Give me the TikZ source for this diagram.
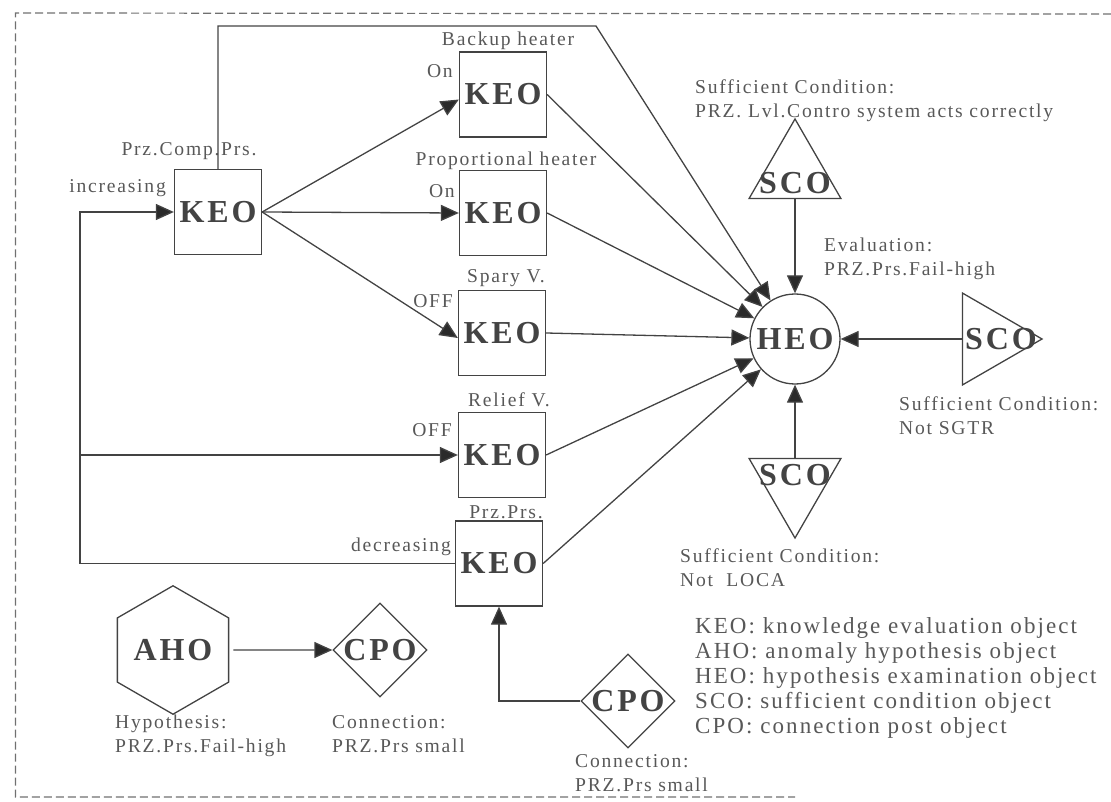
\documentclass[tikz,border=0pt]{standalone}
\usepackage{fontspec}
\setmainfont{Liberation Serif}[LetterSpace=9]
\usetikzlibrary{arrows.meta,shapes.geometric,calc}
\definecolor{ink}{HTML}{434343}
\definecolor{txt}{HTML}{585858}
\definecolor{tipc}{HTML}{2A2A2A}
\definecolor{frame}{HTML}{707070}
\tikzset{
  lab/.style={font=\fontsize{19.6}{24}\selectfont, text=txt, inner sep=0pt, align=left},
  legend/.style={font=\fontsize{23}{25.2}\selectfont, text=txt, inner sep=0pt, align=left},
  obj/.style={font=\fontsize{32}{36}\selectfont\bfseries, text=ink},
  keo/.style={rectangle, draw=ink, line width=1.3pt, minimum width=87pt, minimum height=85pt, inner sep=0pt, obj},
  heo/.style={circle, draw=ink, line width=1.3pt, minimum size=90pt, inner sep=0pt, obj},
  sco/.style={regular polygon, regular polygon sides=3, draw=ink, line width=1.3pt, minimum size=106pt, inner sep=0pt},
  aho/.style={regular polygon, regular polygon sides=6, shape border rotate=30, draw=ink, line width=1.3pt, minimum size=105pt, inner sep=0pt, obj},
  cpo/.style={diamond, draw=ink, line width=1.3pt, minimum width=94pt, minimum height=94pt, inner sep=0pt},
  wire/.style={draw=ink, line width=1.3pt},
  arr/.style={wire, -{Triangle[length=18pt,width=16pt,fill=tipc]}},
  border/.style={draw=frame, line width=1.2pt, dash pattern=on 8pt off 4pt},
}
\begin{document}
\begin{tikzpicture}[x=1pt,y=-1pt]
\useasboundingbox (0,0) rectangle (1111,802);

% dashed frame (open on the right)
\draw[border] (1111,14) -- (15.5,13) -- (15.5,797) -- (795,797);

% knowledge evaluation objects
\node[keo] (k0) at (218,212) {KEO};
\node[keo] (k1) at (503,94.5) {KEO};
\node[keo] (k2) at (503,213) {KEO};
\node[keo] (k3) at (502,333) {KEO};
\node[keo] (k4) at (502,455) {KEO};
\node[keo] (k5) at (499,563.5) {KEO};

% hypothesis examination object
\node[heo] (heo) at (795,339) {HEO};

% sufficient condition objects
\node[sco, label={[obj,yshift=-11pt]center:SCO}] (s1) at (795,172) {};
\node[sco, shape border rotate=-90, label={[obj,xshift=12pt]center:SCO}] (s2) at (989,339) {};
\node[sco, shape border rotate=180, label={[obj,yshift=10pt]center:SCO}] (s3) at (795,485) {};

% anomaly hypothesis and connection post objects
\node[aho] (a1) at (173,650) {AHO};
\node[cpo, label={[obj]center:CPO}] (c1) at (380,650) {};
\node[cpo, label={[obj]center:CPO}] (c2) at (628,701) {};

% labels on the KEOs
\node[lab, anchor=base] (l0) at (189,156) {Prz.Comp.Prs.};
\node[lab, anchor=base] (l1) at (508,46) {Backup heater};
\node[lab, anchor=base] (l2) at (506,166) {Proportional heater};
\node[lab, anchor=base] (l3) at (506,283) {Spary V.};
\node[lab, anchor=base] (l4) at (509,406) {Relief V.};
\node[lab, anchor=base] (l5) at (506,518) {Prz.Prs.};

\node[lab, anchor=base east] (v0) at (166,193) {increasing};
\node[lab, anchor=base east] (v1) at (453,78) {On};
\node[lab, anchor=base east] (v2) at (455,198) {On};
\node[lab, anchor=base east] (v3) at (453,308) {OFF};
\node[lab, anchor=base east] (v4) at (452,436) {OFF};
\node[lab, anchor=base east] (v5) at (451,551) {decreasing};

% descriptions
\node[lab, anchor=north west] (d1) at (695,80) {Sufficient Condition:\\PRZ. Lvl.Contro system acts correctly};
\node[lab, anchor=north west] (d2) at (824,238) {Evaluation:\\PRZ.Prs.Fail-high};
\node[lab, anchor=north west] (d3) at (899,396) {Sufficient Condition:\\Not SGTR};
\node[lab, anchor=north west] (d4) at (680,548) {Sufficient Condition:\\Not~ LOCA};
\node[lab, anchor=north west] (d5) at (115,715) {Hypothesis:\\PRZ.Prs.Fail-high};
\node[lab, anchor=north west] (d6) at (332,715) {Connection:\\PRZ.Prs small};
\node[lab, anchor=north west] (d7) at (575,754) {Connection:\\PRZ.Prs small};

\node[legend, anchor=north west] (key) at (695,617) {KEO: knowledge evaluation object\\AHO: anomaly hypothesis object\\HEO: hypothesis examination object\\SCO: sufficient condition object\\CPO: connection post object};

% connectors
\coordinate (tl) at (596,26);
\coordinate (lc) at (80,212);

\draw[arr] (k0.east) -- ([yshift=-5pt]k1.west);
\draw[arr] (k0.east) -- (k2.west);
\draw[arr] (k0.east) -- ([yshift=-5pt]k3.west);

\draw[arr] (k0.north) |- (tl) -- (heo);
\draw[arr] (k1.east) -- (heo);
\draw[arr] (k2.east) -- (heo);
\draw[arr] (k3.east) -- (heo);
\draw[arr] (k4.east) -- (heo);
\draw[arr] (k5.east) -- (heo);

\draw[arr] (k5.west) -| (lc) -- (k0.west);
\draw[arr] (k4.west -| lc) -- (k4.west);

\draw[arr] (s1.south) -- (heo);
\draw[arr] (s2.west) -- (heo);
\draw[arr] (s3.north) -- (heo);

\draw[arr, shorten <=4pt] (a1.east) -- (c1.west);
\draw[arr] (c2.west) -| (k5.south);
\end{tikzpicture}
\end{document}
